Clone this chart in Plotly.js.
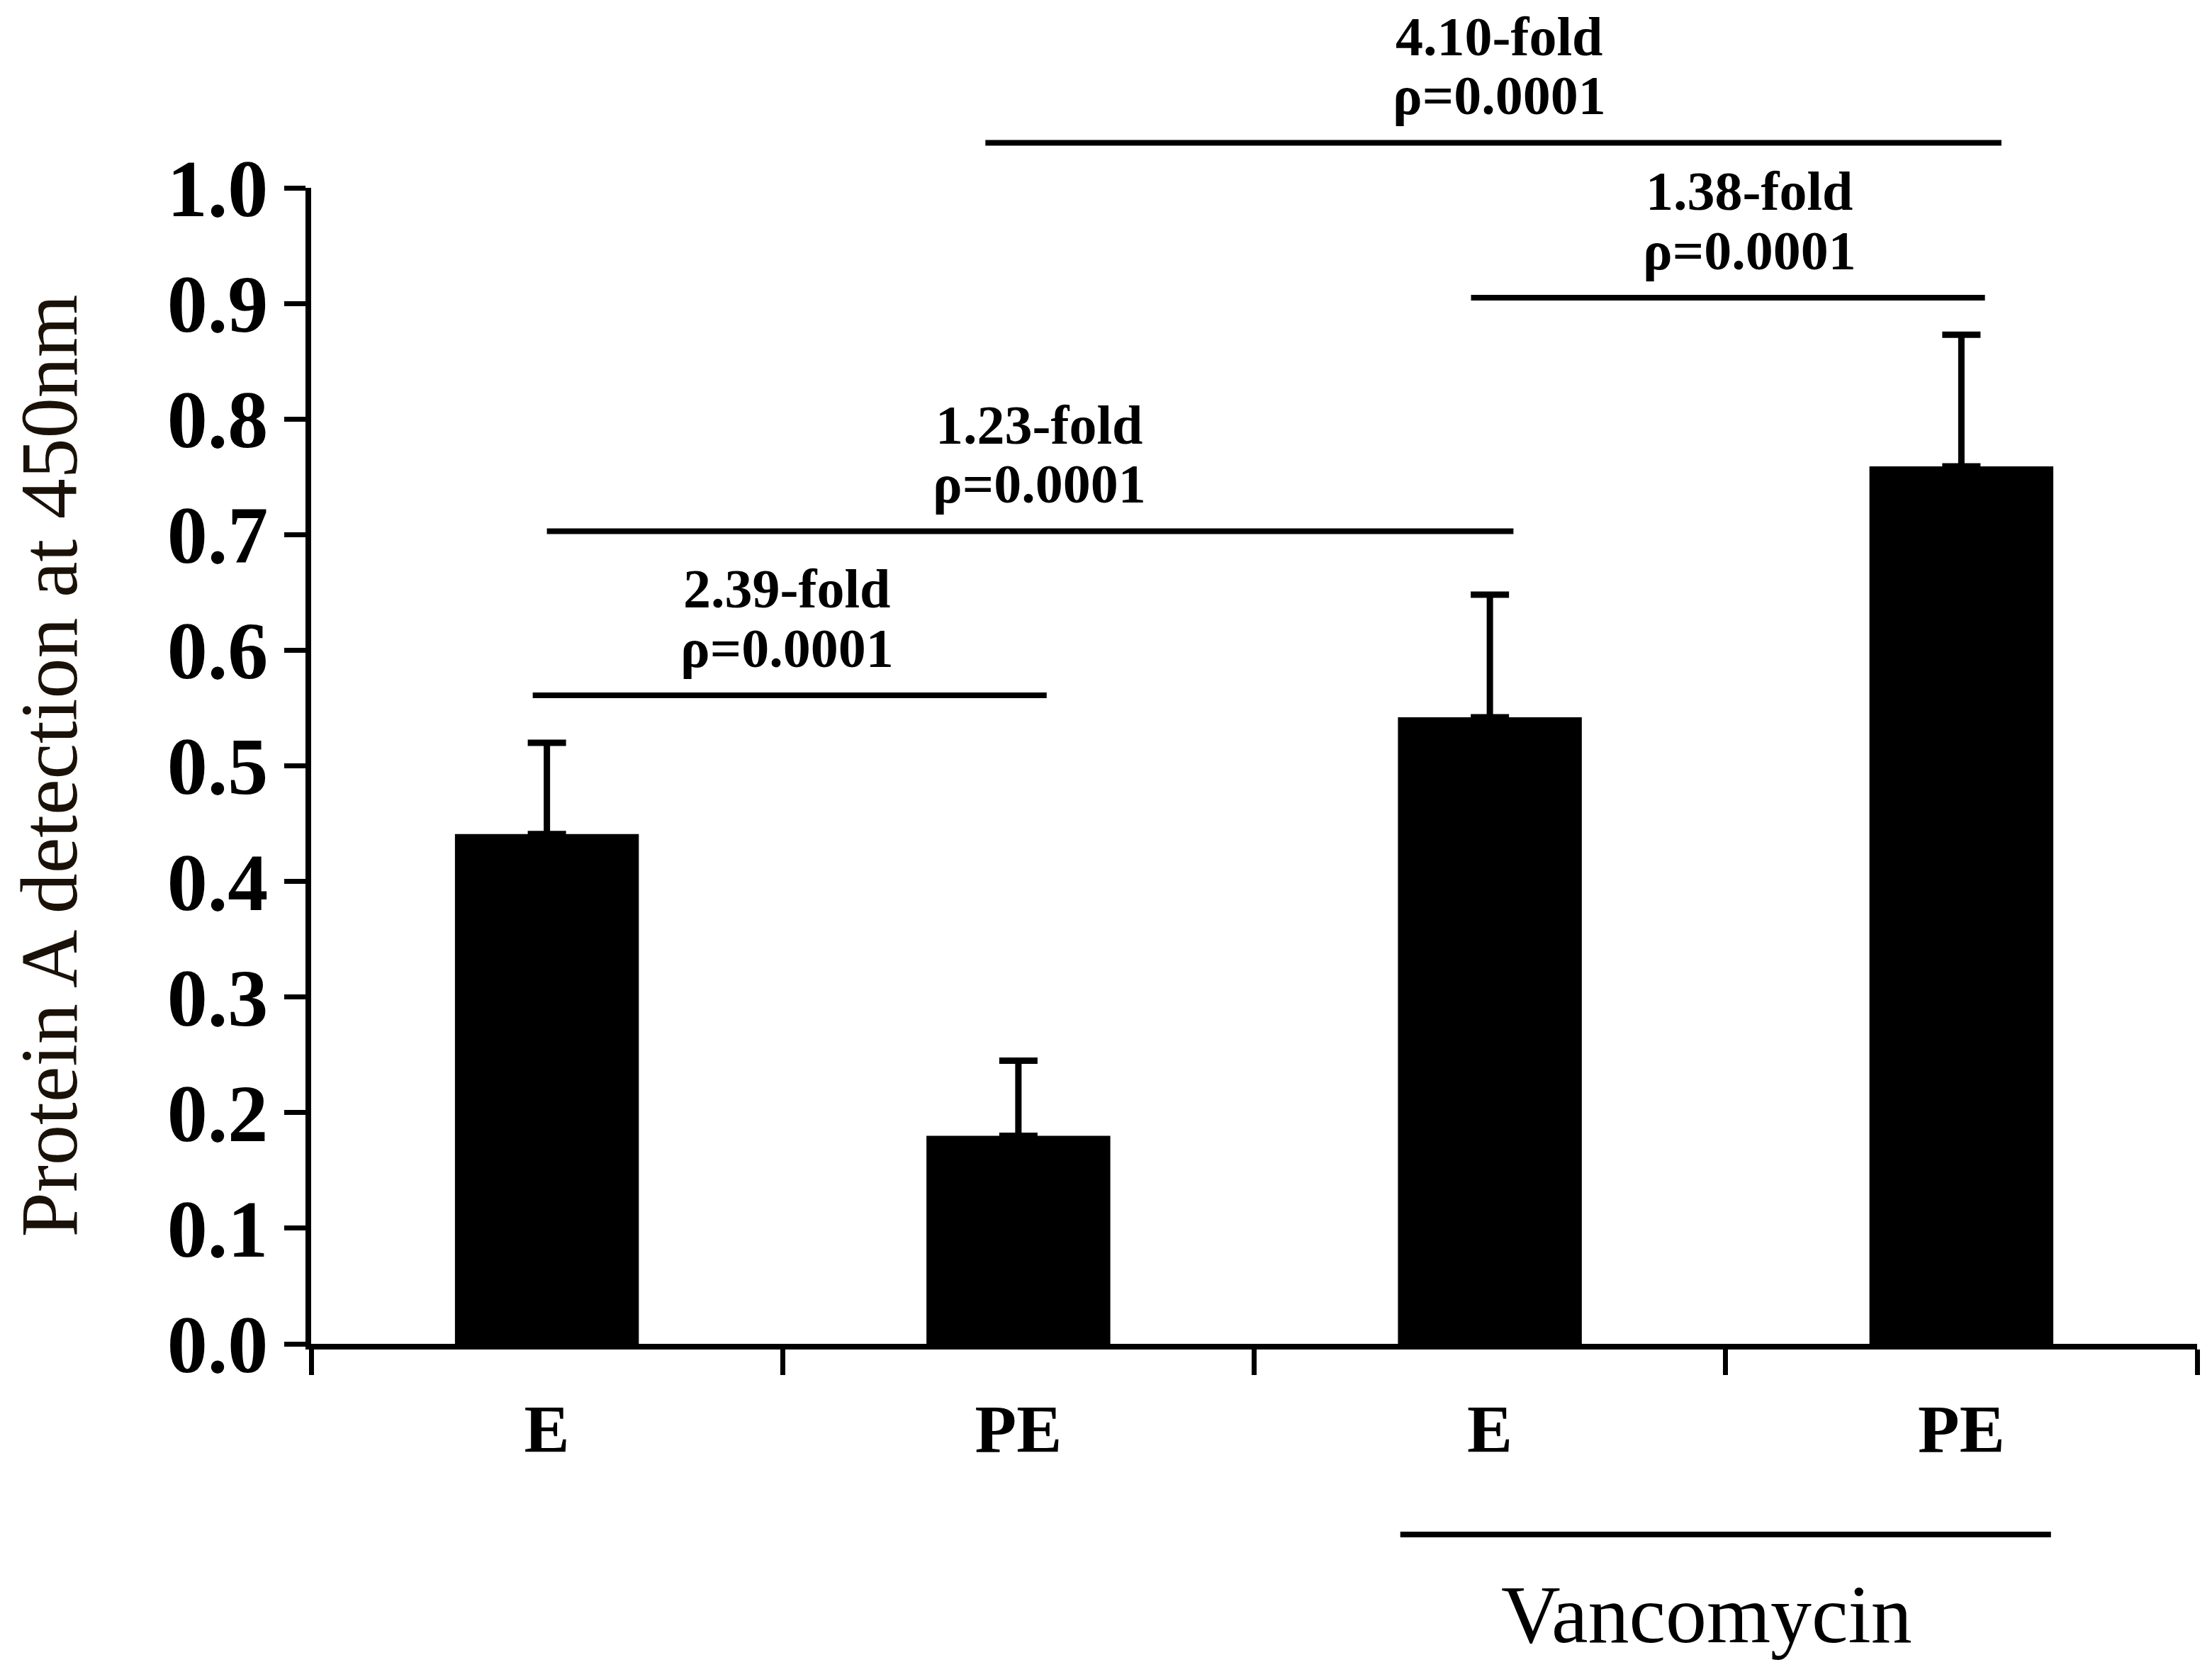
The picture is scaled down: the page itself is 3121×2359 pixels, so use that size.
<!DOCTYPE html>
<html>
<head>
<meta charset="utf-8">
<script src="https://cdn.plot.ly/plotly-3.0.1.min.js"></script>
<style>
  html, body { margin: 0; padding: 0; background: #fff; }
</style>
</head>
<body>
<div id="chart" style="width:3121px;height:2359px;"></div>
<script>
// groups along the x axis (E / PE, then the same with vancomycin)
const categories = ['E', 'PE', 'E', 'PE'];
const means = [0.441, 0.180, 0.542, 0.759];
const sdUpper = [0.079, 0.065, 0.106, 0.114];
const yTicks = [0, 0.1, 0.2, 0.3, 0.4, 0.5, 0.6, 0.7, 0.8, 0.9, 1.0];

// pairwise comparisons drawn above the bars
const foldLabels = ['2.39-fold', '1.23-fold', '1.38-fold', '4.10-fold'];
const pLabels = ['ρ=0.0001', 'ρ=0.0001', 'ρ=0.0001', 'ρ=0.0001'];
const groupLabel = 'Vancomycin';

// bracket geometry (x in category units, y in axis units)
const bracketFrom = [0.47, 0.50, 2.46, 1.43];
const bracketTo = [1.56, 2.55, 3.55, 3.585];
const bracketLevel = [0.561, 0.703, 0.905, 1.039];
const bracketTextX = [1.01, 1.545, 3.05, 2.52];

const xPos = categories.map((_, i) => i + 0.5);
const serif = 'Liberation Serif, Times New Roman, serif';

const data = [{
  type: 'bar',
  x: xPos,
  y: means,
  width: 0.39,
  marker: {color: '#000', line: {width: 0}},
  error_y: {
    type: 'data',
    symmetric: false,
    array: sdUpper,
    arrayminus: means.map(() => 0),
    color: '#000',
    thickness: 9,
    width: 27
  },
  hoverinfo: 'skip',
  showlegend: false
}];

const shapes = [];
const annotations = [];

bracketFrom.forEach((x0, i) => {
  shapes.push({
    type: 'line', xref: 'x', yref: 'paper',
    x0, x1: bracketTo[i], y0: bracketLevel[i], y1: bracketLevel[i],
    line: {color: '#000', width: 8}
  });
  annotations.push({
    text: foldLabels[i], xref: 'x', yref: 'paper',
    x: bracketTextX[i], y: bracketLevel[i] + 0.092,
    showarrow: false, xanchor: 'center', yanchor: 'middle', borderpad: 0,
    font: {family: serif, size: 78, color: '#000', weight: 'bold'}
  });
  annotations.push({
    text: pLabels[i], xref: 'x', yref: 'paper',
    x: bracketTextX[i], y: bracketLevel[i] + 0.041,
    showarrow: false, xanchor: 'center', yanchor: 'middle', borderpad: 0,
    font: {family: serif, size: 78, color: '#000', weight: 'bold'}
  });
});

// line and label under the vancomycin groups
shapes.push({
  type: 'line', xref: 'x', yref: 'paper',
  x0: 2.31, x1: 3.69, y0: -0.165, y1: -0.165,
  line: {color: '#000', width: 8}
});
annotations.push({
  text: groupLabel, xref: 'x', yref: 'paper',
  x: 2.96, y: -0.234,
  showarrow: false, xanchor: 'center', yanchor: 'middle',
  font: {family: serif, size: 116, color: '#000'}
});

const layout = {
  width: 3121,
  height: 2359,
  paper_bgcolor: '#fff',
  plot_bgcolor: '#fff',
  margin: {l: 439, r: 21, t: 265, b: 463},
  xaxis: {
    range: [0, 4],
    tickvals: xPos,
    ticktext: categories,
    ticks: '',
    ticklabelstandoff: 30,
    tickfont: {family: serif, size: 96, color: '#000', weight: 'bold'},
    minor: {
      tickvals: [0, 1, 2, 3, 4],
      ticks: 'outside',
      ticklen: 36,
      tickwidth: 7,
      tickcolor: '#000',
      showgrid: false
    },
    showline: true,
    linecolor: '#000',
    linewidth: 8,
    showgrid: false,
    zeroline: false,
    fixedrange: true
  },
  yaxis: {
    range: [0, 1],
    tickvals: yTicks,
    ticktext: yTicks.map(v => v.toFixed(1)),
    ticks: 'outside',
    ticklen: 30,
    tickwidth: 7,
    tickcolor: '#000',
    tickfont: {family: serif, size: 114, color: '#000', weight: 'bold'},
    showline: true,
    linecolor: '#000',
    linewidth: 8,
    showgrid: false,
    zeroline: false,
    title: {
      text: 'Protein A detection at 450nm',
      standoff: 92,
      font: {family: serif, size: 114, color: '#1a1208'}
    },
    fixedrange: true
  },
  shapes,
  annotations
};

Plotly.newPlot('chart', data, layout, {displayModeBar: false, staticPlot: true});
</script>
</body>
</html>
